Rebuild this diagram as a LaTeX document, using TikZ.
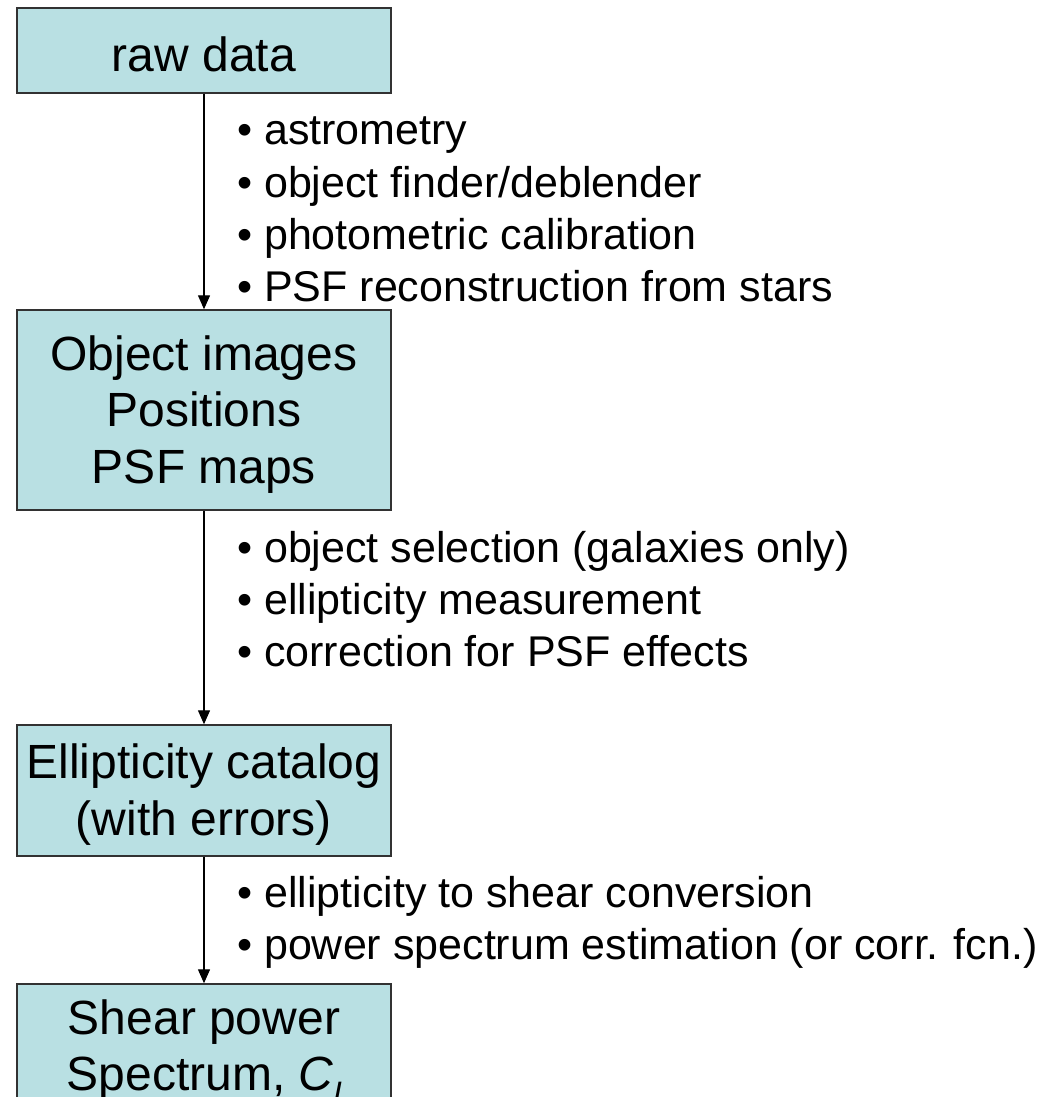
\documentclass[tikz,border=0pt]{standalone}
\usepackage{fontspec}
\setmainfont{Liberation Sans}
\usetikzlibrary{arrows.meta}
\definecolor{boxfill}{RGB}{185,224,227}
\definecolor{boxline}{RGB}{50,50,50}
\newcommand{\boxstrut}{\rule{0pt}{43pt}}
\begin{document}
\begin{tikzpicture}[x=1pt,y=-1pt,
  procbox/.style={draw=boxline, line width=1.5pt, fill=boxfill, minimum width=374pt,
    inner sep=0pt, align=center, font=\fontsize{48}{56.5}\selectfont},
  steplist/.style={anchor=base west, inner sep=0pt, font=\fontsize{43}{52.3}\selectfont},
  flow/.style={draw=black, line width=1.4pt, -{Triangle[width=12pt,length=14pt]}}]
\useasboundingbox (0,0) rectangle (1053,1097);
\clip (0,0) rectangle (1053,1097);
\fill[white] (0,0) rectangle (1053,1097);

\node[procbox, minimum height=85pt] (raw) at (204,50.5) {\boxstrut raw data};
\node[procbox, minimum height=200pt] (obj) at (204,410) {\boxstrut Object images\\Positions\\PSF maps};
\node[procbox, minimum height=131pt] (ell) at (204,790.5) {\boxstrut Ellipticity catalog\\(with errors)};
\node[procbox, minimum height=130pt] (shear) at (204,1049) {\boxstrut Shear power\\Spectrum, \textit{C\textsubscript{l}}};

\draw[flow] (raw) -- (obj);
\draw[flow] (obj) -- (ell);
\draw[flow] (ell) -- (shear);

\node[steplist] (s1) at (237,145) {\begin{tabular}[t]{@{}l@{}}
\textbullet\ astrometry\\
\textbullet\ object finder/deblender\\
\textbullet\ photometric calibration\\
\textbullet\ PSF reconstruction from stars
\end{tabular}};
\node[steplist] (s2) at (237,562) {\begin{tabular}[t]{@{}l@{}}
\textbullet\ object selection (galaxies only)\\
\textbullet\ ellipticity measurement\\
\textbullet\ correction for PSF effects
\end{tabular}};
\node[steplist] (s3) at (237,907) {\begin{tabular}[t]{@{}l@{}}
\textbullet\ ellipticity to shear conversion\\
\textbullet\ power spectrum estimation (or corr. fcn.)
\end{tabular}};
\end{tikzpicture}
\end{document}
